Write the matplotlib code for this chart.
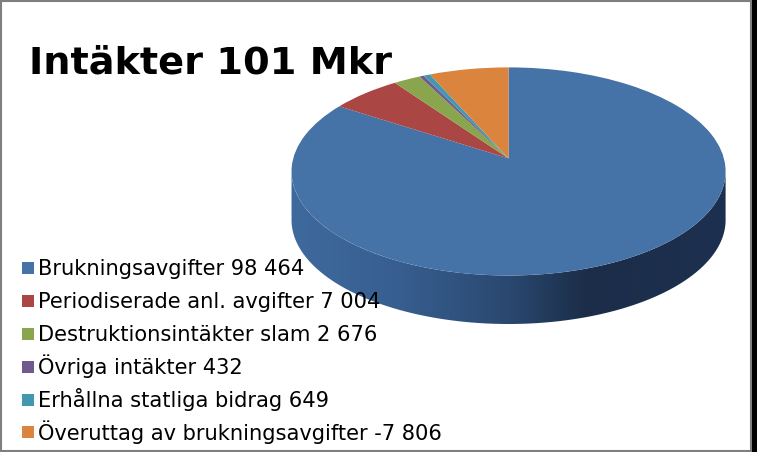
import matplotlib
matplotlib.use("Agg")
import matplotlib.pyplot as plt
from matplotlib.patches import Polygon, Rectangle
from matplotlib.transforms import Transform
import numpy as np

labels = ["Brukningsavgifter 98 464", "Periodiserade anl. avgifter 7 004",
          "Destruktionsintäkter slam 2 676", "Övriga intäkter 432",
          "Erhållna statliga bidrag 649", "Överuttag av brukningsavgifter -7 806"]
values = [98464, 7004, 2676, 432, 649, 7806]  # the negative one is drawn by size
colors = ["#4572A7", "#AA4643", "#89A54E", "#71588F", "#4198AF", "#DB843D"]


# unit circle -> tilted pie top in pixels, apex stays off centre like the 3D pie
class Tilt(Transform):
    input_dims = 2
    output_dims = 2

    def transform_non_affine(self, pts):
        pts = np.asarray(pts)
        w = 1 + 0.125 * pts[:, 1]
        return np.column_stack([508.5 + 215.3 * pts[:, 0] / w, 158.5 - 102.4 * pts[:, 1] / w])


# 4.52 alone rounds down to 451 px
fig = plt.figure(figsize=(7.571, 4.521), dpi=100)
ax = fig.add_axes([0, 0, 1, 1])

wedges, _ = ax.pie(values, colors=colors, startangle=90, counterclock=False)
for w in wedges:
    w.set_transform(Tilt() + ax.transData)
    w.set_zorder(3)

# side of the pie, gradient clipped to the lower rim
t = np.linspace(0, 2 * np.pi, 721)
rim = Tilt().transform_non_affine(np.column_stack([np.cos(t), np.sin(t)]))
rim = np.roll(rim, -int(np.argmax(rim[:, 0])), axis=0)
stop = int(np.argmin(rim[:, 0]))
lower = np.vstack([rim[stop:], rim[:1]])
side = np.vstack([lower, (lower + [0, 48.5])[::-1]])

cmap = matplotlib.colors.LinearSegmentedColormap.from_list(
    "rim", [(0, "#3F6A9E"), (0.25, "#375E8F"), (0.5, "#2A4870"), (0.68, "#1B2D48"), (1, "#1D3050")])
img = ax.imshow(np.linspace(0, 1, 256)[None, :], cmap=cmap, aspect="auto", zorder=2,
                extent=[291, 726, 330, 160])
img.set_clip_path(Polygon(side, transform=ax.transData))

ax.set_aspect("auto")
ax.set_xlim(0, 757)
ax.set_ylim(452, 0)
ax.set_axis_off()

ax.text(29, 73, "Intäkter 101 Mkr", fontsize=27.5, fontweight="bold", color="black",
        va="baseline", ha="left", zorder=5)

# legend rows by hand, a real legend spaces the Ö rows unevenly
for i, (lab, c) in enumerate(zip(labels, colors)):
    ax.plot(27.5, 268 + i * 32.9, ls="", marker="s", ms=8, mew=0, color=c, zorder=6, clip_on=False)
    ax.text(38, 275 + i * 32.9, lab, fontsize=15.1, color="black", va="baseline", ha="left", zorder=6)

# slide frame
ax.add_patch(Rectangle((1, 1), 750, 450, fill=False, ec="#7F7F7F", lw=1.5, zorder=7))
ax.add_patch(Rectangle((752, 0), 5, 452, fc="black", ec="none", zorder=8))

fig.savefig("out.png", dpi=100)
